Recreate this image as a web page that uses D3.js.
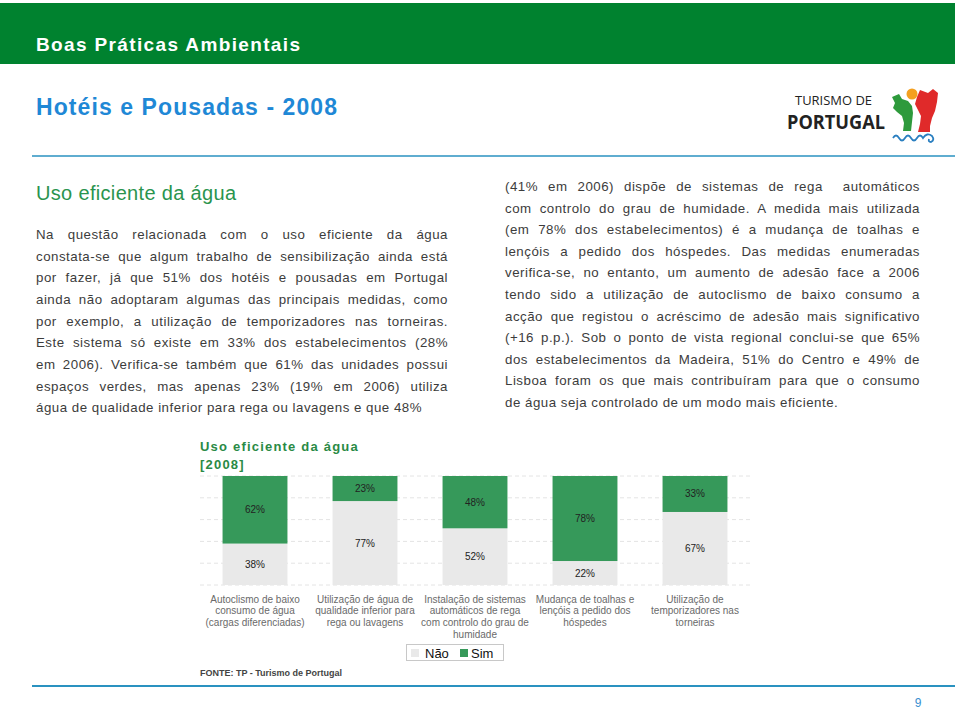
<!DOCTYPE html>
<html>
<head>
<meta charset="utf-8">
<script src="https://cdn.jsdelivr.net/npm/d3@7"></script>
<style>
  html, body { margin: 0; padding: 0; background: #fff; }
  svg { display: block; font-family: "Liberation Sans", Arial, sans-serif; }
</style>
</head>
<body>
<svg id="page" width="960" height="710"></svg>
<script>
// ---------- DATA ----------
const categories = [
  ["Autoclismo de baixo", "consumo de água", "(cargas diferenciadas)"],
  ["Utilização de água de", "qualidade inferior para", "rega ou lavagens"],
  ["Instalação de sistemas", "automáticos de rega", "com controlo do grau de", "humidade"],
  ["Mudança de toalhas e", "lençóis a pedido dos", "hóspedes"],
  ["Utilização de", "temporizadores nas", "torneiras"]
];
const simValues = [62, 23, 48, 78, 33];
const naoValues = [38, 77, 52, 22, 67];
const seriesNames = ["Não", "Sim"];
const gridTicks = [0, 20, 40, 60, 80, 100];

const headerTitle = "Boas Práticas Ambientais";
const pageTitle = "Hotéis e Pousadas - 2008";
const sectionTitle = "Uso eficiente da água";
const chartTitle = ["Uso eficiente da água", "[2008]"];
const sourceText = "FONTE: TP - Turismo de Portugal";
const pageNumber = "9";

const leftParagraph = [
  "Na questão relacionada com o uso eficiente da água",
  "constata-se que algum trabalho de sensibilização ainda está",
  "por fazer, já que 51% dos hotéis e pousadas em Portugal",
  "ainda não adoptaram algumas das principais medidas, como",
  "por exemplo, a utilização de temporizadores nas torneiras.",
  "Este sistema só existe em 33% dos estabelecimentos (28%",
  "em 2006). Verifica-se também que 61% das unidades possui",
  "espaços verdes, mas apenas 23% (19% em 2006) utiliza",
  "água de qualidade inferior para rega ou lavagens e que 48%"
];
const rightParagraph = [
  "(41% em 2006) dispõe de sistemas de rega  automáticos",
  "com controlo do grau de humidade. A medida mais utilizada",
  "(em 78% dos estabelecimentos) é a mudança de toalhas e",
  "lençóis a pedido dos hóspedes. Das medidas enumeradas",
  "verifica-se, no entanto, um aumento de adesão face a 2006",
  "tendo sido a utilização de autoclismo de baixo consumo a",
  "acção que registou o acréscimo de adesão mais significativo",
  "(+16 p.p.). Sob o ponto de vista regional conclui-se que 65%",
  "dos estabelecimentos da Madeira, 51% do Centro e 49% de",
  "Lisboa foram os que mais contribuíram para que o consumo",
  "de água seja controlado de um modo mais eficiente."
];

// ---------- STYLE ----------
const GREEN_HEADER = "#00822f";
const GREEN_BAR = "#36995a";
const GREY_BAR = "#e9e9e9";
const BLUE_TITLE = "#1f88d6";
const BLUE_LINE = "#2a92c0";
const TEXT = "#3c3c3c";

const svg = d3.select("#page");

// ---------- HEADER ----------
svg.append("rect").attr("x", 0).attr("y", 3).attr("width", 955).attr("height", 61).attr("fill", GREEN_HEADER);
svg.append("text").attr("x", 36).attr("y", 51)
  .attr("fill", "#fff").attr("font-size", 19).attr("font-weight", "bold")
  .attr("textLength", 264).attr("lengthAdjust", "spacing")
  .text(headerTitle);

svg.append("text").attr("x", 36).attr("y", 115)
  .attr("fill", BLUE_TITLE).attr("font-size", 23).attr("font-weight", "bold")
  .attr("textLength", 301).attr("lengthAdjust", "spacing")
  .text(pageTitle);

svg.append("line").attr("x1", 32).attr("x2", 955).attr("y1", 156).attr("y2", 156)
  .attr("stroke", BLUE_LINE).attr("stroke-width", 1.5);

// ---------- LOGO ----------
const logo = svg.append("g");
logo.append("text").attr("x", 795).attr("y", 105).attr("font-family", "'Open Sans', 'Noto Sans', sans-serif")
  .attr("font-size", 13).attr("fill", "#222").attr("textLength", 77).attr("lengthAdjust", "spacingAndGlyphs").text("TURISMO DE");
logo.append("text").attr("x", 787).attr("y", 129).attr("font-family", "'Open Sans', 'Noto Sans', sans-serif")
  .attr("font-size", 19).attr("font-weight", "bold").attr("fill", "#222")
  .attr("textLength", 98).attr("lengthAdjust", "spacingAndGlyphs").text("PORTUGAL");
logo.append("path").attr("fill", "#2e9a3c")
  .attr("d", "M892,97 L899,94 L902,99 L908,101 L912,106 L913,113 L912,122 L911,131 L903,131 L904,123 L902,116 L897,112 L893,108 L895,103 Z");
logo.append("circle").attr("cx", 912).attr("cy", 94).attr("r", 5.5).attr("fill", "#f4a020");
logo.append("path").attr("fill", "#e02a2a")
  .attr("d", "M920,90 L928,93 L933,89 L938,93 L937,102 L935,111 L932,118 L930,126 L930,132 L918,132 L920,124 L921,116 L918,110 L915,104 L917,97 Z");
logo.append("path").attr("fill", "none").attr("stroke", "#2a7fc0").attr("stroke-width", 1.8)
  .attr("d", "M893,138 q3,-5 6,0 q3,5 6,0 q3,-5 6,0 q3,5 6,0 q3,-5 6,0 q4,-6 9,-2 q3,4 -1,6 q-3,0 -2,-3");

// ---------- SECTION TITLE ----------
svg.append("text").attr("x", 36).attr("y", 200)
  .attr("fill", "#2a944e").attr("font-size", 20)
  .attr("textLength", 200).attr("lengthAdjust", "spacing")
  .text(sectionTitle);

// ---------- PARAGRAPHS (justified) ----------
function paragraph(lines, x, width, y0, lh, justifyLast) {
  const g = svg.append("g").attr("fill", TEXT).attr("font-size", 13.3).attr("letter-spacing", 0.5);
  lines.forEach((ln, i) => {
    const t = g.append("text").attr("x", x).attr("y", y0 + i * lh).attr("xml:space", "preserve").text(ln);
    const isLast = i === lines.length - 1;
    if (!isLast || justifyLast) {
      const natural = t.node().getComputedTextLength();
      const gaps = (ln.match(/ /g) || []).length;
      if (gaps > 0) t.attr("word-spacing", (width - natural) / gaps);
    }
  });
}
paragraph(leftParagraph, 36, 412, 239, 21.65, false);
paragraph(rightParagraph, 505, 415, 191, 21.6, false);

// ---------- CHART ----------
svg.append("g").attr("fill", "#2a8a45").attr("font-size", 13).attr("font-weight", "bold")
  .selectAll("text").data(chartTitle).join("text")
  .attr("x", 200).attr("y", (d, i) => 451 + i * 18)
  .attr("letter-spacing", 1.2)
  .text(d => d);

const idx = d3.range(categories.length);
const x = d3.scaleBand().domain(idx).range([200, 750]).paddingInner(0.41).paddingOuter(0.205);
const y = d3.scaleLinear().domain([0, 100]).range([585, 476]);

// gridlines
svg.append("g").selectAll("line").data(gridTicks).join("line")
  .attr("x1", 200).attr("x2", 752)
  .attr("y1", d => y(d)).attr("y2", d => y(d))
  .attr("stroke", "#e4e4e4").attr("stroke-dasharray", "4,3");

const stackData = idx.map(i => ({ i, nao: naoValues[i], sim: simValues[i] }));
const stack = d3.stack().keys(["nao", "sim"])(stackData);
const colors = { nao: GREY_BAR, sim: GREEN_BAR };

const layers = svg.append("g").selectAll("g").data(stack).join("g").attr("fill", d => colors[d.key]);
layers.selectAll("rect").data(d => d).join("rect")
  .attr("x", d => x(d.data.i)).attr("width", x.bandwidth())
  .attr("y", d => y(d[1])).attr("height", d => y(d[0]) - y(d[1]));

const labelG = svg.append("g").attr("font-size", 10).attr("fill", "#222").attr("text-anchor", "middle");
stack.forEach(layer => {
  layer.forEach(d => {
    labelG.append("text")
      .attr("x", x(d.data.i) + x.bandwidth() / 2)
      .attr("y", (y(d[0]) + y(d[1])) / 2 + 3.5)
      .text(d.data[layer.key] + "%");
  });
});

// category labels
const catG = svg.append("g").attr("font-size", 10).attr("fill", "#6a6a6a").attr("text-anchor", "middle");
categories.forEach((lines, i) => {
  lines.forEach((ln, j) => {
    catG.append("text")
      .attr("x", x(i) + x.bandwidth() / 2)
      .attr("y", 602.5 + j * 11.7)
      .text(ln);
  });
});

// legend
const leg = svg.append("g");
leg.append("rect").attr("x", 406.5).attr("y", 644.5).attr("width", 97).attr("height", 16)
  .attr("fill", "#fff").attr("stroke", "#c8c8c8");
const legItems = [
  { name: seriesNames[0], color: GREY_BAR, sx: 411, tx: 425 },
  { name: seriesNames[1], color: GREEN_BAR, sx: 460, tx: 471 }
];
legItems.forEach(it => {
  leg.append("rect").attr("x", it.sx).attr("y", 649).attr("width", 8).attr("height", 8).attr("fill", it.color);
  leg.append("text").attr("x", it.tx).attr("y", 657.5).attr("font-size", 13).attr("fill", "#111").text(it.name);
});

// source
svg.append("text").attr("x", 200).attr("y", 676)
  .attr("font-size", 9).attr("font-weight", "bold").attr("fill", "#444")
  .attr("textLength", 142).attr("lengthAdjust", "spacing")
  .text(sourceText);

// footer
svg.append("line").attr("x1", 32).attr("x2", 955).attr("y1", 686).attr("y2", 686)
  .attr("stroke", BLUE_LINE).attr("stroke-width", 2);
svg.append("text").attr("x", 918).attr("y", 707).attr("text-anchor", "middle")
  .attr("font-size", 12).attr("fill", "#3a8fd0").text(pageNumber);
</script>
</body>
</html>
